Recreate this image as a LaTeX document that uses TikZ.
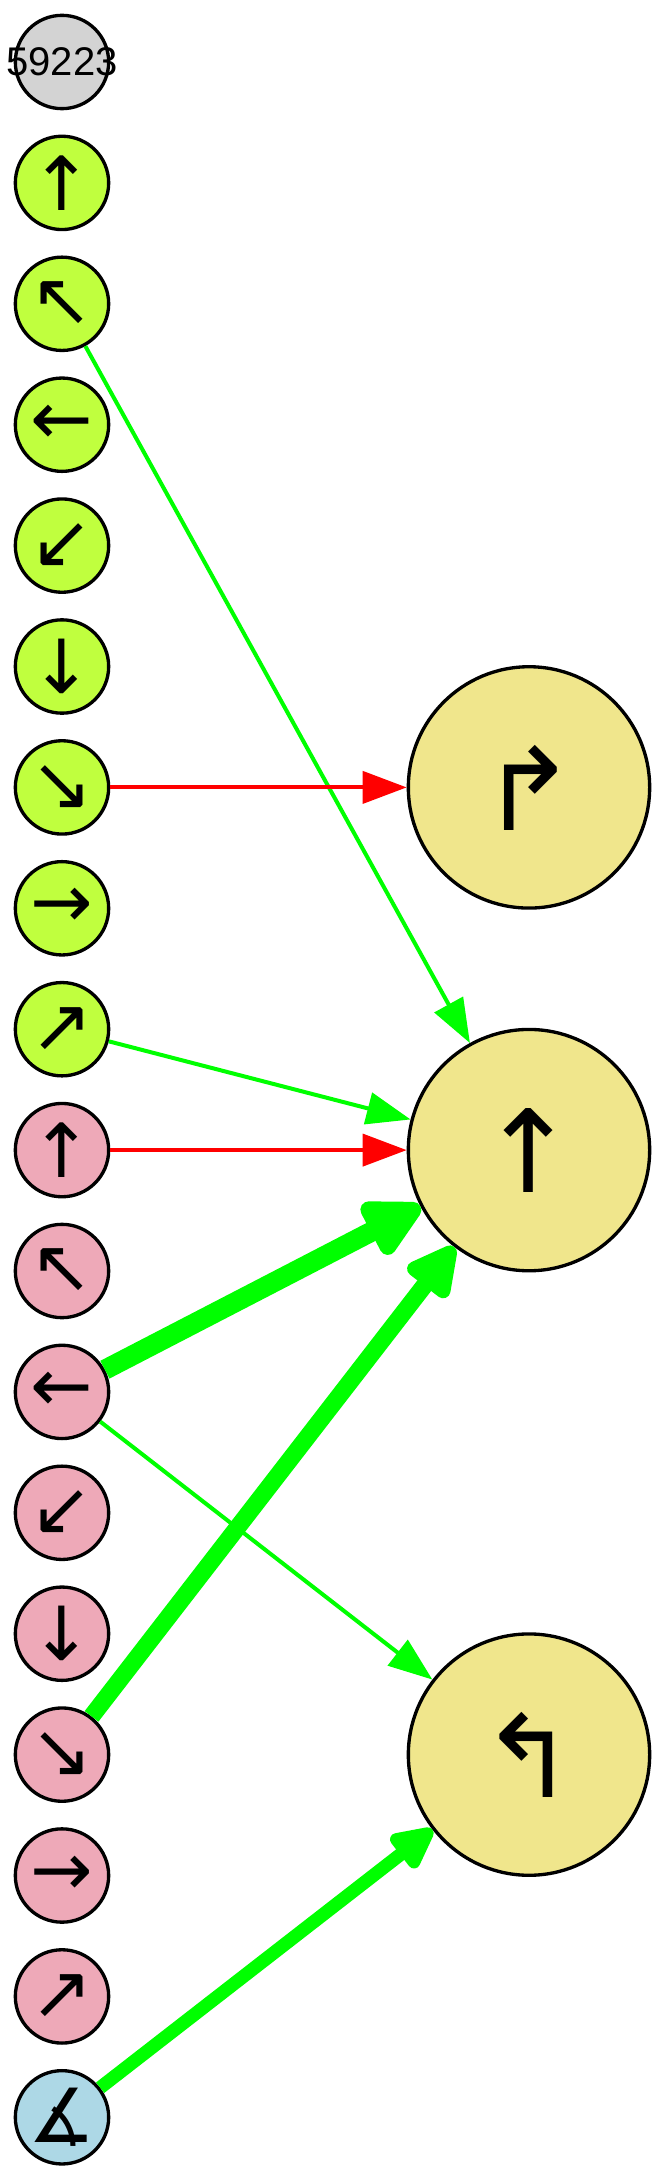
\documentclass[tikz,border=0pt]{standalone}
\usepackage{fontspec}
\setmainfont{DejaVu Sans}
\newfontfamily\countfont{Liberation Sans}
\usepackage{tikz}
\usetikzlibrary{arrows.meta}

\definecolor{leaf}{HTML}{C0FF3E}
\definecolor{rose}{HTML}{EEA9B8}
\definecolor{sky}{HTML}{ADD8E6}
\definecolor{ash}{HTML}{D3D3D3}
\definecolor{khaki}{HTML}{F0E68C}
\definecolor{linkgreen}{HTML}{00FF00}
\definecolor{linkred}{HTML}{FF0000}

\tikzset{
  ring/.style={circle,draw,line width=2.5pt,inner sep=0pt},
  smallring/.style={ring,minimum size=70pt,font=\fontsize{56}{56}\selectfont},
  bigring/.style={ring,fill=khaki,minimum size=181pt,font=\fontsize{86}{86}\selectfont},
  weak/.style={line width=3pt,-{Triangle[length=33pt,width=24pt]}},
  heavy/.style={line width=#1,line join=round}
}

\begin{document}
\begin{tikzpicture}[x=0.75pt,y=-0.75pt]
    \useasboundingbox (0,0) rectangle (667,2179);
    % left column
    \node[smallring,fill=ash,font=\countfont\fontsize{30}{30}\selectfont] (cnt) at (62,62) {\makebox[0pt]{59223}};
    \node[smallring,fill=leaf] (gN) at (62,182.9) {↑};
    \node[smallring,fill=leaf] (gNW) at (62,303.8) {↖};
    \node[smallring,fill=leaf] (gW) at (62,424.7) {←};
    \node[smallring,fill=leaf] (gSW) at (62,545.6) {↙};
    \node[smallring,fill=leaf] (gS) at (62,666.5) {↓};
    \node[smallring,fill=leaf] (gSE) at (62,787.4) {↘};
    \node[smallring,fill=leaf] (gE) at (62,908.3) {→};
    \node[smallring,fill=leaf] (gNE) at (62,1029.2) {↗};
    \node[smallring,fill=rose] (pN) at (62,1150.1) {↑};
    \node[smallring,fill=rose] (pNW) at (62,1271) {↖};
    \node[smallring,fill=rose] (pW) at (62,1391.9) {←};
    \node[smallring,fill=rose] (pSW) at (62,1512.8) {↙};
    \node[smallring,fill=rose] (pS) at (62,1633.7) {↓};
    \node[smallring,fill=rose] (pSE) at (62,1754.6) {↘};
    \node[smallring,fill=rose] (pE) at (62,1875.5) {→};
    \node[smallring,fill=rose] (pNE) at (62,1996.4) {↗};
    \node[smallring,fill=sky] (ang) at (62,2117.3) {∡};
    % right column
    \node[bigring] (turnR) at (529,787.4) {↱};
    \node[bigring] (up) at (529,1150.1) {↑};
    \node[bigring] (turnL) at (529,1754.6) {↰};
    % links
    \draw[weak,linkgreen] (gNW) -- (up);
    \draw[weak,linkred] (gSE) -- (turnR);
    \draw[weak,linkgreen] (gNE) -- (up);
    \draw[weak,linkred] (pN) -- (up);
    \draw[heavy=15pt,linkgreen,-{Triangle[length=50pt,width=48pt,round]}] (pW) -- (up);
    \draw[weak,linkgreen] (pW) -- (turnL);
    \draw[heavy=13pt,linkgreen,-{Triangle[length=44pt,width=42pt,round]}] (pSE) -- (up);
    \draw[heavy=10pt,linkgreen,-{Triangle[length=37pt,width=34pt,round]}] (ang) -- (turnL);
\end{tikzpicture}
\end{document}
